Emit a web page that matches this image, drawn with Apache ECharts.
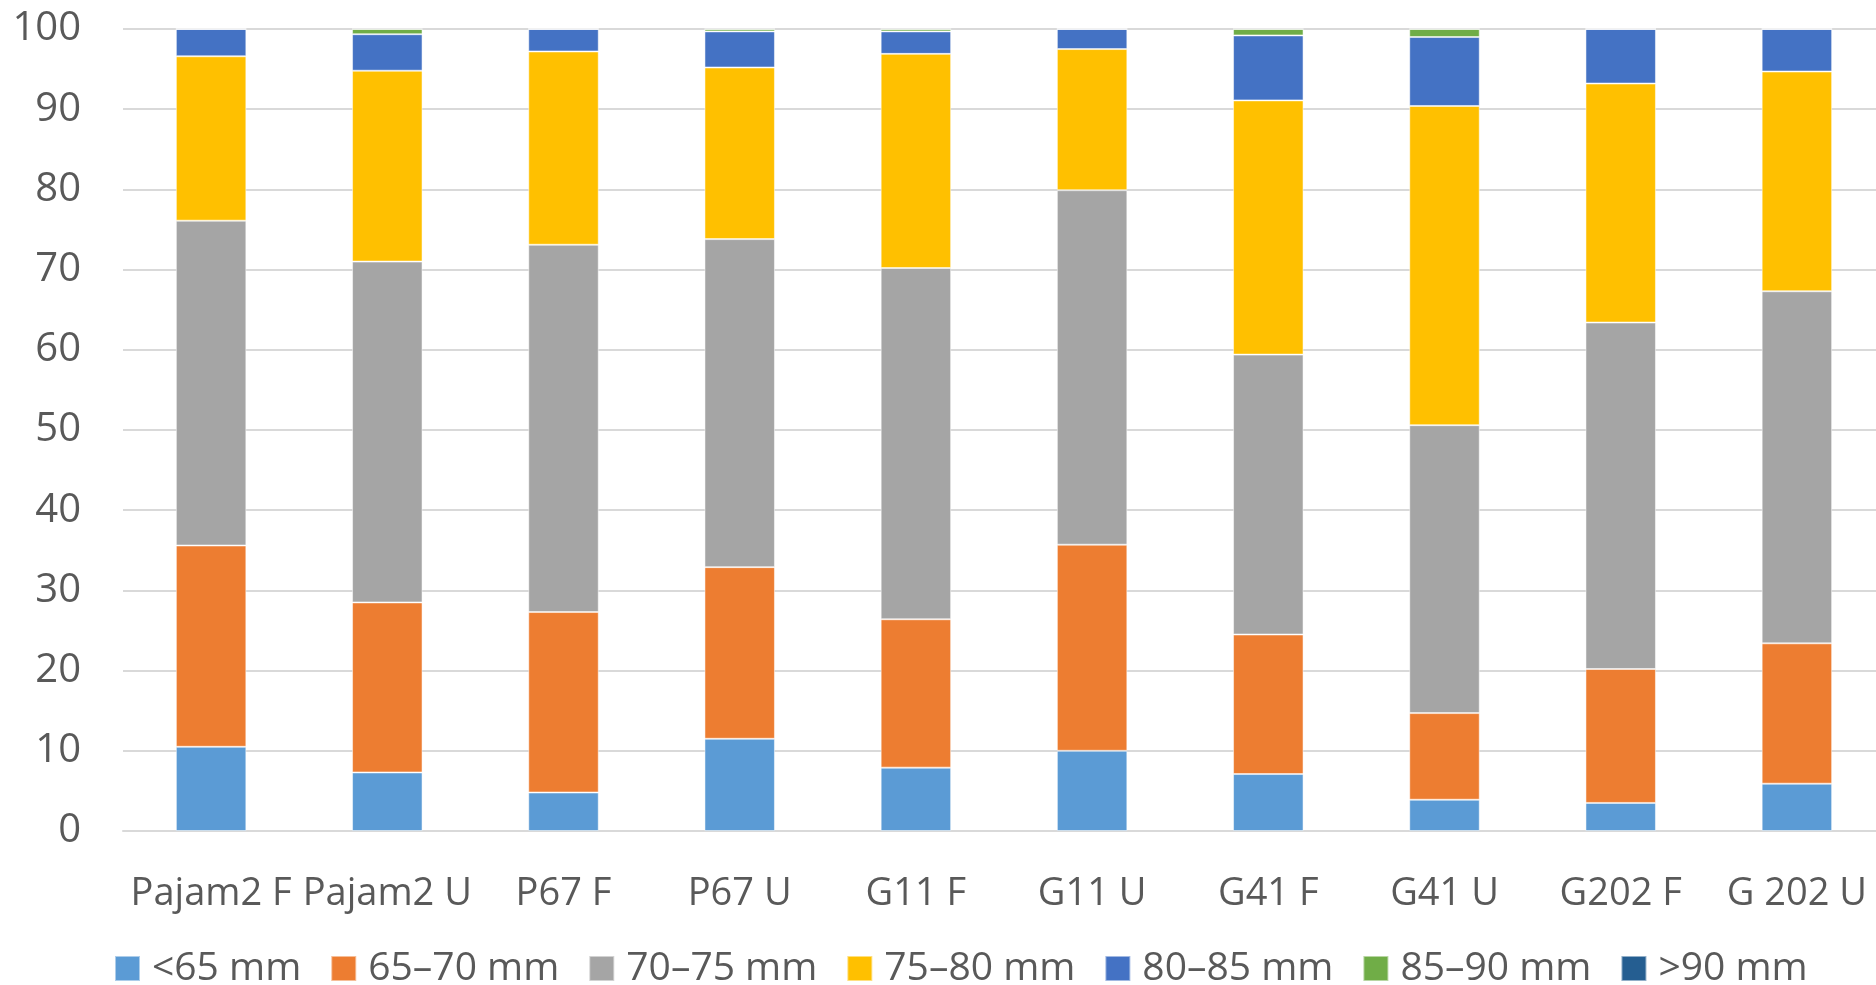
<!DOCTYPE html>
<html>
<head>
<meta charset="utf-8">
<script src="https://cdn.jsdelivr.net/npm/echarts@6/dist/echarts.min.js"></script>
<style>
html,body{margin:0;padding:0;background:#fff;}
#chart{width:1876px;height:985px;}
</style>
</head>
<body>
<div id="chart"></div>
<script>
const categories = ['Pajam2 F','Pajam2 U','P67 F','P67 U','G11 F','G11 U','G41 F','G41 U','G202 F','G 202 U'];
const seriesNames = ['<65 mm','65\u201370 mm','70\u201375 mm','75\u201380 mm','80\u201385 mm','85\u201390 mm','>90 mm'];
const lt65    = [10.5, 7.3, 4.8, 11.5, 7.9, 10.0, 7.1, 3.9, 3.5, 5.9];
const s65_70  = [25.1, 21.2, 22.5, 21.4, 18.5, 25.7, 17.4, 10.8, 16.7, 17.5];
const s70_75  = [40.5, 42.5, 45.8, 40.9, 43.8, 44.2, 34.9, 35.9, 43.2, 43.9];
const s75_80  = [20.5, 23.8, 24.1, 21.4, 26.7, 17.6, 31.7, 39.8, 29.8, 27.4];
const s80_85  = [3.4, 4.55, 2.8, 4.5, 2.8, 2.5, 8.1, 8.6, 6.8, 5.3];
const s85_90  = [0, 0.65, 0, 0.3, 0.3, 0, 0.8, 1.0, 0, 0];
const gt90    = [0, 0, 0, 0, 0, 0, 0, 0, 0, 0];
const yTicks  = [0, 10, 20, 30, 40, 50, 60, 70, 80, 90, 100];

const colors = ['#5B9BD5','#ED7D31','#A5A5A5','#FFC000','#4472C4','#70AD47','#255E91'];
const allData = [lt65, s65_70, s70_75, s75_80, s80_85, s85_90, gt90];
const FONT = '"Open Sans", sans-serif';

const chart = echarts.init(document.getElementById('chart'), null, {renderer:'canvas'});
chart.setOption({
  animation: false,
  color: colors,
  grid: {left: 123, width: 1762, top: 29, bottom: 154, containLabel: false, outerBoundsMode: 'none'},
  legend: {
    data: seriesNames,
    left: 109,
    top: 944,
    itemWidth: 25,
    itemHeight: 25,
    itemGap: 29,
    icon: 'rect',
    textStyle: {fontFamily: FONT, fontSize: 39, color: '#595959', padding: [0,0,0,7]}
  },
  xAxis: {
    type: 'category',
    data: categories,
    axisLine: {show: true, lineStyle: {color: '#D9D9D9', width: 2}},
    axisTick: {show: false},
    axisLabel: {interval: 0, margin: 44, fontFamily: FONT, fontSize: 38, color: '#595959'}
  },
  yAxis: {
    type: 'value',
    min: yTicks[0],
    max: yTicks[yTicks.length-1],
    interval: 10,
    axisLine: {show: false},
    axisTick: {show: false},
    splitLine: {lineStyle: {color: '#D9D9D9', width: 2}},
    axisLabel: {margin: 42, fontFamily: FONT, fontSize: 40, color: '#595959'}
  },
  series: seriesNames.map((n, i) => ({
    name: n,
    type: 'bar',
    stack: 'total',
    barWidth: '40%',
    data: allData[i],
    itemStyle: {color: colors[i], borderColor: 'rgba(255,255,255,0.5)', borderWidth: 1}
  }))
});
</script>
</body>
</html>
